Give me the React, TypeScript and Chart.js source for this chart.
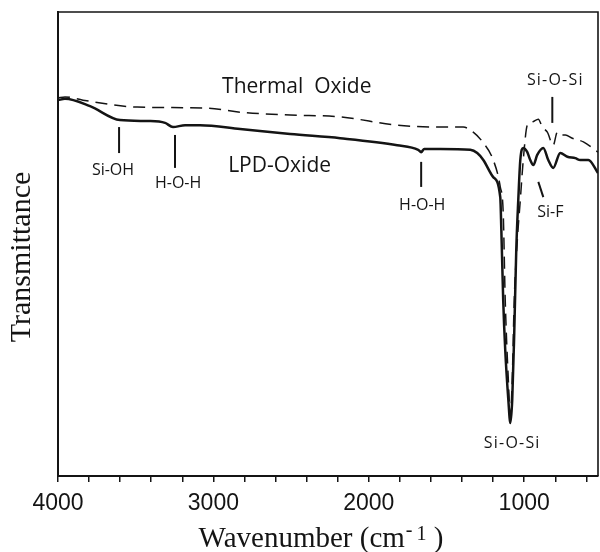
import { useEffect, useRef } from "react";
import { Chart, registerables } from "chart.js";

Chart.register(...registerables);

// Thermal oxide (dashed) spectrum
const thermalWavenumber = [4000, 3955, 3839, 3491, 3041, 2828, 2506, 2184, 1817, 1540, 1392, 1328, 1263, 1199, 1154, 1135, 1122, 1102, 1089, 1077, 1064, 1044, 1025, 1006, 980, 948, 909, 883, 851, 813, 787, 768, 735, 690, 619, 525];
const thermalTransmittance = [81.5, 81.7, 81.0, 79.5, 79.3, 78.4, 77.8, 77.4, 75.6, 75.2, 75.2, 74.1, 71.8, 68.1, 62.3, 56.7, 37.9, 20.7, 13.1, 20.7, 37.9, 50.9, 59.5, 68.1, 75.6, 76.3, 76.9, 75.2, 74.1, 71.3, 74.1, 73.5, 73.5, 72.8, 72.0, 69.8];

// LPD oxide (solid) spectrum
const lpdWavenumber = [4000, 3955, 3794, 3601, 3408, 3311, 3260, 3182, 3086, 2828, 2506, 2184, 1817, 1682, 1663, 1643, 1540, 1347, 1302, 1263, 1199, 1154, 1147, 1135, 1122, 1102, 1089, 1077, 1064, 1051, 1038, 1025, 1006, 980, 961, 941, 916, 877, 845, 813, 768, 722, 671, 639, 587, 525];
const lpdTransmittance = [81.0, 81.3, 79.7, 76.7, 76.5, 76.1, 75.2, 75.6, 75.6, 74.8, 73.7, 72.8, 71.3, 70.3, 69.8, 70.5, 70.5, 70.3, 69.6, 68.1, 64.4, 60.1, 53.0, 37.9, 27.2, 16.4, 11.4, 16.4, 30.8, 48.7, 59.5, 68.1, 70.7, 69.8, 68.1, 67.0, 69.2, 70.7, 68.1, 66.4, 69.6, 68.8, 68.5, 68.1, 68.1, 65.3];

// X axis ticks
const xTickValues = [4000, 3800, 3600, 3400, 3200, 3000, 2800, 2600, 2400, 2200, 2000, 1800, 1600, 1400, 1200, 1000, 800, 600];
const xTickLabels = ["4000", "", "", "", "", "3000", "", "", "", "", "2000", "", "", "", "", "1000", "", ""];

// Text annotations (anchor in data units)
const annotationTexts = ["Thermal  Oxide", "LPD-Oxide", "Si-OH", "H-O-H", "H-O-H", "Si-F", "Si-O-Si", "Si-O-Si"];
const annotationWavenumber = [2944, 2905, 3646, 3227, 1656, 832, 800, 1077];
const annotationTransmittance = [82.5, 65.5, 64.9, 62.1, 57.3, 55.8, 84.3, 6.0];

// Band marker strokes (data units)
const markerFromWavenumber = [3607, 3247, 1663, 909, 819];
const markerFromTransmittance = [75.2, 73.5, 67.7, 63.4, 81.7];
const markerToWavenumber = [3607, 3247, 1663, 877, 819];
const markerToTransmittance = [69.6, 66.4, 62.3, 60.1, 76.1];

const INK = "#141414";

const overlayPlugin = {
  id: "overlay",
  afterDraw(chart: any) {
    const { ctx, chartArea: a, scales } = chart;
    const xs = scales.x;
    const ys = scales.y;
    ctx.save();
    // top & right frame
    ctx.strokeStyle = INK;
    ctx.lineWidth = 1.6;
    ctx.beginPath();
    ctx.moveTo(a.left, a.top);
    ctx.lineTo(a.right, a.top);
    ctx.lineTo(a.right, a.bottom);
    ctx.stroke();

    // band markers
    ctx.lineWidth = 2;
    for (let i = 0; i < markerFromWavenumber.length; i++) {
      ctx.beginPath();
      ctx.moveTo(xs.getPixelForValue(markerFromWavenumber[i]), ys.getPixelForValue(markerFromTransmittance[i]));
      ctx.lineTo(xs.getPixelForValue(markerToWavenumber[i]), ys.getPixelForValue(markerToTransmittance[i]));
      ctx.stroke();
    }

    // labels
    ctx.fillStyle = INK;
    ctx.textBaseline = "alphabetic";
    for (let i = 0; i < annotationTexts.length; i++) {
      const big = i < 2;
      ctx.font = big ? "21px 'Open Sans'" : "16px 'Open Sans'";
      ctx.textAlign = big ? "left" : "center";
      (ctx as any).letterSpacing = annotationTexts[i] === "Si-O-Si" ? "1.2px" : "0px";
      ctx.fillText(annotationTexts[i], xs.getPixelForValue(annotationWavenumber[i]), ys.getPixelForValue(annotationTransmittance[i]));
    }
    (ctx as any).letterSpacing = "0px";

    // y title
    ctx.save();
    ctx.translate(22, 257);
    ctx.rotate(-Math.PI / 2);
    ctx.font = "30px 'Liberation Serif'";
    ctx.textAlign = "center";
    ctx.textBaseline = "middle";
    ctx.fillText("Transmittance", 0, 0);
    ctx.restore();

    // x title with superscript
    const main = "Wavenumber (cm";
    ctx.font = "29px 'Liberation Serif'";
    const wMain = ctx.measureText(main).width;
    ctx.font = "20px 'Liberation Serif'";
    const wSup = ctx.measureText("- 1").width;
    ctx.font = "29px 'Liberation Serif'";
    const wEnd = ctx.measureText(" )").width;
    const total = wMain + wSup + wEnd;
    let x0 = 321 - total / 2;
    const base = 547;
    ctx.textAlign = "left";
    ctx.fillText(main, x0, base);
    x0 += wMain;
    ctx.font = "20px 'Liberation Serif'";
    ctx.fillText("-", x0 + 1, base - 11);
    ctx.fillText("1", x0 + ctx.measureText("- ").width, base - 7);
    x0 += wSup;
    ctx.font = "29px 'Liberation Serif'";
    ctx.fillText(" )", x0, base);
    ctx.restore();
  },
};

export default function App() {
  const canvasRef = useRef<HTMLCanvasElement | null>(null);

  useEffect(() => {
    const canvas = canvasRef.current;
    if (!canvas) return;
    const thermal = thermalWavenumber.map((w, i) => ({ x: w, y: thermalTransmittance[i] }));
    const lpd = lpdWavenumber.map((w, i) => ({ x: w, y: lpdTransmittance[i] }));
    const chart = new Chart(canvas, {
      type: "line",
      data: {
        datasets: [
          {
            label: "Thermal Oxide",
            data: thermal,
            borderColor: INK,
            borderWidth: 1.5,
            borderDash: [12, 7],
            pointRadius: 0,
            cubicInterpolationMode: "monotone",
            fill: false,
          },
          {
            label: "LPD-Oxide",
            data: lpd,
            borderColor: INK,
            borderWidth: 2.5,
            pointRadius: 0,
            cubicInterpolationMode: "monotone",
            fill: false,
          },
        ],
      },
      options: {
        animation: false,
        responsive: true,
        maintainAspectRatio: false,
        layout: { padding: { top: 12, right: 2, left: 0, bottom: 0 } },
        plugins: { legend: { display: false }, tooltip: { enabled: false } },
        scales: {
          x: {
            type: "linear",
            reverse: true,
            min: 525,
            max: 4000,
            afterBuildTicks: (scale: any) => {
              scale.ticks = xTickValues.map((v) => ({ value: v }));
            },
            afterFit: (scale: any) => {
              scale.height = 76;
            },
            ticks: {
              autoSkip: false,
              maxRotation: 0,
              padding: 8,
              color: INK,
              font: { family: "'Liberation Sans'", size: 23 },
              callback: (value: any) => {
                const idx = xTickValues.indexOf(Number(value));
                return idx >= 0 ? xTickLabels[idx] : "";
              },
            },
            grid: { drawOnChartArea: false, drawTicks: true, tickLength: 6, color: INK, lineWidth: 1.5 },
            border: { display: true, color: INK, width: 2 },
          },
          y: {
            type: "linear",
            min: 0,
            max: 100,
            afterFit: (scale: any) => {
              scale.width = 58;
            },
            ticks: { display: false },
            grid: { display: false },
            border: { display: true, color: INK, width: 2 },
          },
        },
      },
      plugins: [overlayPlugin],
    });
    return () => chart.destroy();
  }, []);

  return (
    <div style={{ position: "absolute", left: 0, top: 0, width: 600, height: 552, background: "#fff" }}>
      <canvas ref={canvasRef} />
    </div>
  );
}
